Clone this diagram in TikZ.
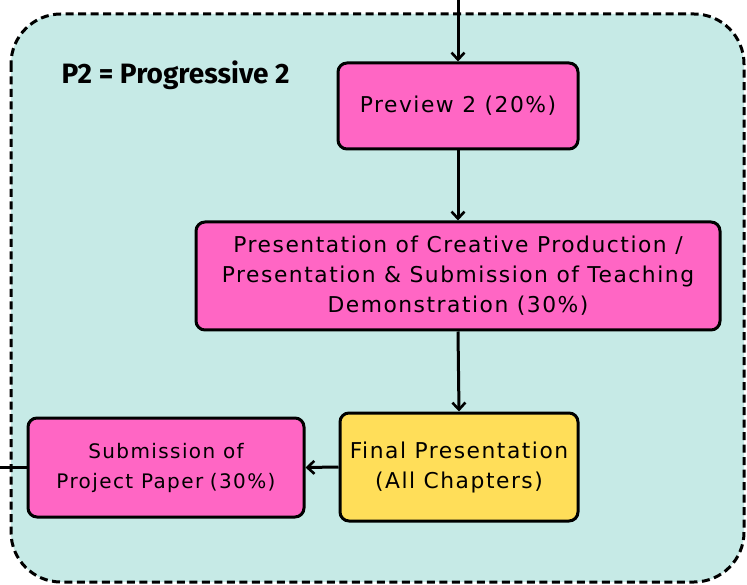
\documentclass[tikz,border=0pt]{standalone}
\usepackage{fontspec}
\setmainfont{DejaVu Sans}[LetterSpace=7]
\newfontfamily\titlefont{Fira Sans}
\usepackage{xcolor}
\usepackage{tikz}
\usetikzlibrary{positioning,calc,arrows.meta}
\definecolor{panelbg}{HTML}{C6EAE6}
\definecolor{pinkbox}{HTML}{FF66C4}
\definecolor{yellowbox}{HTML}{FFDE59}

\begin{document}
\begin{tikzpicture}[x=1pt,y=-1pt,
    box/.style={draw=black,line width=3pt,rounded corners=9pt,fill=pinkbox,
        align=center,inner sep=4pt,font=\fontsize{21.8}{30}\selectfont},
    link/.style={line width=3pt,-{Straight Barb[length=7pt,width=13pt,line width=2.6pt]}}]
    \useasboundingbox (0,0) rectangle (747,585);

    % Panel
    \draw[fill=panelbg,line width=3pt,dash pattern=on 8pt off 4.5pt,rounded corners=50pt]
        (11,14) rectangle (744,582);
    \node[anchor=west,font=\titlefont\bfseries\fontsize{28}{32}\selectfont] (legend) at (58,75) {P2 = Progressive 2};

    % Boxes
    \node[box,minimum width=240pt,minimum height=86pt] (preview) at (458,106) {Preview 2 (20\%)};
    \node[box,minimum width=524pt,minimum height=108pt] (creative) at (458,276)
        {Presentation of Creative Production /\\Presentation \& Submission of Teaching\\Demonstration (30\%)};
    \node[box,fill=yellowbox,minimum width=238pt,minimum height=108pt] (final) at (459,467)
        {Final Presentation\\(All Chapters)};
    \node[box,minimum width=276pt,minimum height=99pt,font=\fontsize{20}{30}\selectfont] (paper) at (166,467.5)
        {Submission of\\Project Paper\,\,(30\%)};

    % Connectors
    \coordinate (entry) at (458,0);
    \coordinate (exit) at (0,467.5);
    \draw[link] (entry) -- (preview.north);
    \draw[link] (preview.south) -- (creative.north);
    \draw[link] (creative.south) -- (final.north);
    \draw[link] (final.west) -- (paper.east);
    \draw[line width=3pt] (paper.west) -- (exit);
\end{tikzpicture}
\end{document}
